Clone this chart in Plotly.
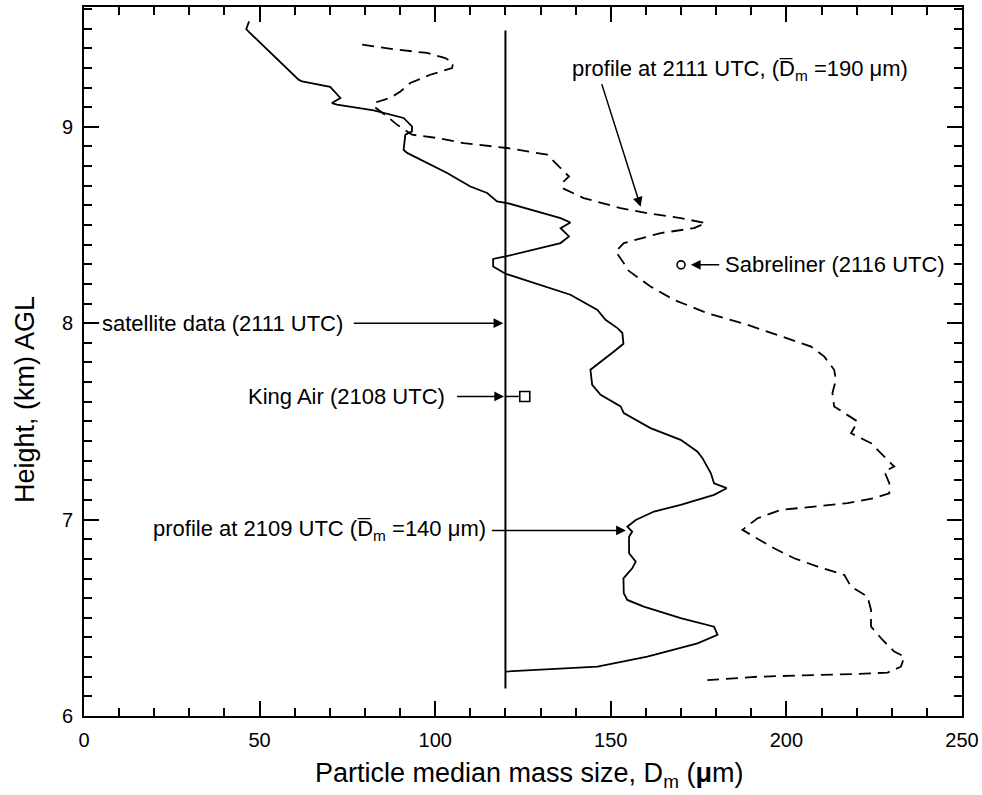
import plotly.graph_objects as go

# profile at 2109 UTC (solid)
solid_x = [47.0, 46.2, 46.8, 61.1, 62.1, 70.1, 73.0, 70.6, 72.0, 82.5,
           91.0, 93.4, 93.4, 91.5, 91.0, 92.0, 103.4, 110.0, 114.8, 117.6,
           120.5, 135.7, 138.5, 135.7, 138.1, 135.7, 120.0, 116.5, 116.5, 120.0,
           138.5, 146.2, 148.5, 151.9, 153.3, 153.6, 150.9, 144.2, 144.7, 147.1,
           152.8, 153.7, 161.3, 169.9, 174.7, 176.1, 178.5, 179.4, 183.0, 179.4,
           169.9, 162.3, 157.1, 154.7, 156.1, 155.2, 155.2, 157.1, 156.1, 153.6,
           153.7, 154.7, 159.4, 169.9, 179.4, 180.4, 174.7, 160.4, 146.2, 127.1,
           120.0]
solid_y = [9.537, 9.498, 9.486, 9.240, 9.231, 9.203, 9.147, 9.121, 9.113, 9.084,
           9.045, 9.002, 8.977, 8.960, 8.883, 8.867, 8.765, 8.696, 8.663, 8.620,
           8.612, 8.535, 8.513, 8.484, 8.442, 8.408, 8.340, 8.327, 8.289, 8.252,
           8.145, 8.068, 8.017, 7.975, 7.950, 7.895, 7.856, 7.763, 7.686, 7.635,
           7.576, 7.542, 7.466, 7.406, 7.346, 7.313, 7.236, 7.185, 7.160, 7.126,
           7.075, 7.041, 6.998, 6.964, 6.939, 6.913, 6.829, 6.786, 6.752, 6.701,
           6.625, 6.591, 6.557, 6.498, 6.455, 6.413, 6.370, 6.302, 6.251, 6.234,
           6.226]

# profile at 2111 UTC (dashed)
dash_x = [79.2, 89.1, 97.7, 102.9, 105.1, 104.8, 98.6, 92.9, 90.1, 87.2,
          83.0, 82.5, 86.3, 89.1, 93.4, 100.5, 108.1, 120.5, 131.9, 135.7,
          138.1, 136.6, 136.2, 142.3, 152.8, 160.4, 169.9, 177.0, 173.7, 164.2,
          153.7, 151.4, 153.7, 154.7, 161.3, 168.0, 177.5, 188.9, 198.4, 207.0,
          210.8, 213.6, 214.1, 213.1, 213.6, 220.3, 218.4, 224.1, 228.8, 230.7,
          227.9, 229.3, 229.3, 225.0, 217.4, 207.9, 198.4, 191.8, 188.0, 187.5,
          190.8, 196.5, 202.2, 208.9, 216.5, 218.4, 223.1, 224.1, 224.1, 227.4,
          230.7, 233.6, 232.6, 228.8, 219.3, 206.0, 191.8, 177.5]
dash_y = [9.418, 9.393, 9.376, 9.350, 9.325, 9.299, 9.265, 9.223, 9.180, 9.147,
          9.124, 9.104, 9.053, 9.011, 8.960, 8.943, 8.917, 8.892, 8.858, 8.790,
          8.747, 8.722, 8.688, 8.637, 8.586, 8.560, 8.535, 8.510, 8.484, 8.459,
          8.408, 8.365, 8.306, 8.272, 8.187, 8.119, 8.051, 7.992, 7.932, 7.881,
          7.830, 7.763, 7.712, 7.644, 7.576, 7.499, 7.440, 7.389, 7.304, 7.270,
          7.245, 7.185, 7.134, 7.109, 7.084, 7.066, 7.049, 7.007, 6.956, 6.948,
          6.913, 6.854, 6.803, 6.761, 6.718, 6.659, 6.608, 6.540, 6.455, 6.387,
          6.328, 6.302, 6.251, 6.221, 6.214, 6.209, 6.200, 6.183]

# satellite data line
sat_x = [120, 120]
sat_y = [6.14, 9.49]

# aircraft points
kingair_x, kingair_y = 125.5, 7.627
sabre_x, sabre_y = 170.0, 8.297

FONT = "Liberation Sans, Arial, sans-serif"
DM = "D\u0305<sub>m</sub>"

fig = go.Figure()
fig.add_trace(go.Scatter(x=sat_x, y=sat_y, mode="lines",
                         line=dict(color="black", width=2), showlegend=False))
fig.add_trace(go.Scatter(x=solid_x, y=solid_y, mode="lines",
                         line=dict(color="black", width=1.8), showlegend=False))
fig.add_trace(go.Scatter(x=dash_x, y=dash_y, mode="lines",
                         line=dict(color="black", width=1.8, dash="12px,7px"),
                         showlegend=False))
fig.add_trace(go.Scatter(x=[kingair_x], y=[kingair_y], mode="markers",
                         marker=dict(symbol="square-open", size=10, color="black",
                                     line=dict(width=1.6)), showlegend=False))
fig.add_trace(go.Scatter(x=[sabre_x], y=[sabre_y], mode="markers",
                         marker=dict(symbol="circle-open", size=8, color="black",
                                     line=dict(width=1.6)), showlegend=False))

# small connecting segments
fig.add_shape(type="line", x0=0, x1=4.3, y0=8.0, y1=8.0, line=dict(color="black", width=1.5))
fig.add_shape(type="line", x0=120, x1=123.8, y0=kingair_y, y1=kingair_y,
              line=dict(color="black", width=1.5))


def arrow(x, y, ax, ay):
    fig.add_annotation(x=x, y=y, ax=ax, ay=ay, xref="x", yref="y", axref="x", ayref="y",
                       text="", showarrow=True, arrowhead=2, arrowsize=1.3,
                       arrowwidth=1.5, arrowcolor="black")


def label(x, y, txt, anchor):
    fig.add_annotation(x=x, y=y, xref="x", yref="y", text=txt, showarrow=False,
                       xanchor=anchor, yanchor="middle",
                       font=dict(family=FONT, size=22, color="black"))


label(4.6, 8.0, "satellite data (2111 UTC)", "left")
arrow(119.4, 8.0, 76.4, 8.0)

label(103.5, 7.627, "King Air (2108 UTC)", "right")
arrow(119.6, 7.627, 105.8, 7.627)

label(114.9, 6.948, "profile at 2109 UTC (" + DM + " =140 \u03bcm)", "right")
arrow(154.3, 6.945, 115.7, 6.945)

label(181.9, 8.297, "Sabreliner (2116 UTC)", "left")
arrow(172.8, 8.297, 181.3, 8.297)

fig.add_annotation(x=186.7, y=9.291, xref="x", yref="y", showarrow=False,
                   text="profile at 2111 UTC, (" + DM + " =190 \u03bcm)",
                   xanchor="center", yanchor="middle",
                   font=dict(family=FONT, size=22, color="black"))
arrow(158.5, 8.593, 147.3, 9.225)

# axis titles
fig.add_annotation(x=-0.067, y=0.446, xref="paper", yref="paper", showarrow=False,
                   text="Height, (km) AGL", textangle=-90,
                   xanchor="center", yanchor="middle",
                   font=dict(family=FONT, size=27, color="black"))
fig.add_annotation(x=0.507, y=-0.083, xref="paper", yref="paper", showarrow=False,
                   text="Particle median mass size, D<sub>m</sub> (<b>\u03bc</b>m)",
                   xanchor="center", yanchor="middle",
                   font=dict(family=FONT, size=27, color="black"))

axis_common = dict(showline=True, linecolor="black", linewidth=2, mirror="allticks",
                   ticks="inside", ticklen=15, tickwidth=2, tickcolor="black",
                   showgrid=False, zeroline=False, automargin=False,
                   tickfont=dict(family=FONT, size=20, color="black"))

fig.update_xaxes(range=[0, 250], tick0=0, dtick=50, ticklabelstandoff=5,
                 minor=dict(dtick=10, ticks="inside", ticklen=8, tickwidth=2,
                            tickcolor="black", showgrid=False),
                 **axis_common)
fig.update_yaxes(range=[6, 9.61], tick0=6, dtick=1, ticklabelstandoff=5,
                 minor=dict(dtick=0.1, ticks="inside", ticklen=8, tickwidth=2,
                            tickcolor="black", showgrid=False),
                 **axis_common)

fig.update_layout(width=982, height=795,
                  margin=dict(l=84, r=20, t=7, b=79, autoexpand=False),
                  plot_bgcolor="white", paper_bgcolor="white",
                  font=dict(family=FONT, color="black"),
                  showlegend=False)

# the page's default body margin would shift the figure by 8px
fig.write_html("out.html", config={"displayModeBar": False},
               post_script="document.body.style.margin = '0px';")
